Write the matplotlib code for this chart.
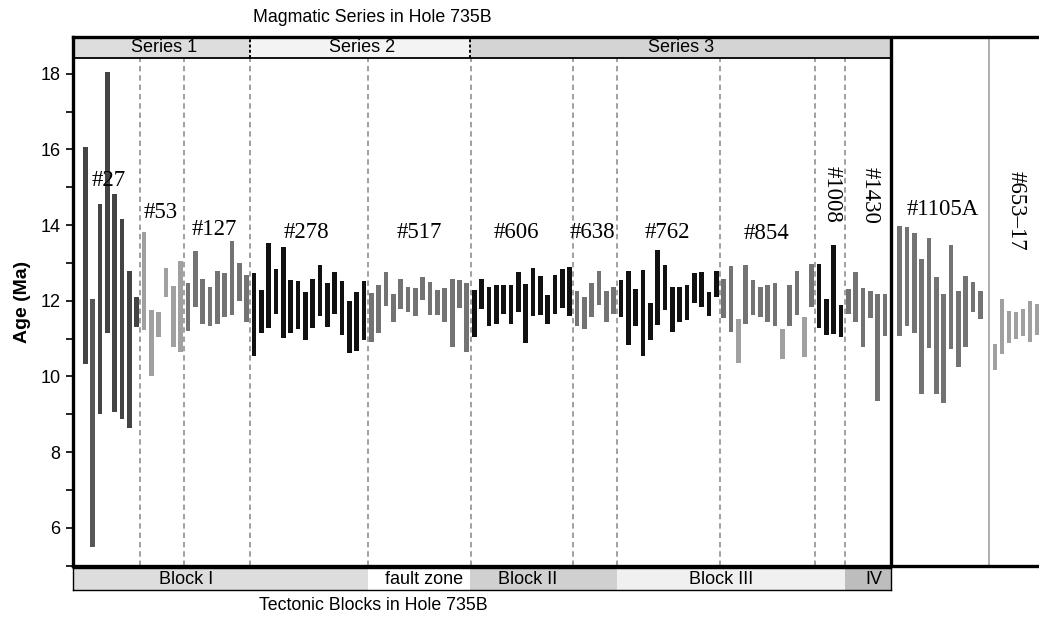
import numpy as np
import matplotlib
matplotlib.use("Agg")
import matplotlib.pyplot as plt
from matplotlib.patches import Rectangle
from matplotlib.ticker import MultipleLocator
from matplotlib import font_manager

# ---------------- data (ages in Ma: top / bottom of each age range) ----------------
labels = ["#27", "#53", "#127", "#278", "#517", "#606", "#638", "#762", "#854",
          "#1008", "#1430", "#1105A", "#653\u201317"]

g27_top = [16.05, 12.04, 14.55, 18.05, 14.82, 14.15, 12.79, 12.11]
g27_bot = [10.33, 5.50, 9.00, 11.15, 9.07, 8.87, 8.65, 11.31]
g27_col = ["d", "d2", "d", "d", "d", "d", "d", "d"]

g53_top = [13.82, 11.76, 11.71, 12.86, 12.39, 13.05]
g53_bot = [11.23, 10.00, 11.05, 12.11, 10.77, 10.64]

g127_top = [12.48, 13.31, 12.57, 12.35, 12.79, 12.72, 13.58, 13.00, 12.68]
g127_bot = [11.20, 11.83, 11.39, 11.33, 11.39, 11.56, 11.62, 11.98, 11.45]

g278_top = [12.74, 12.28, 13.53, 12.83, 13.43, 12.54, 12.51, 12.24, 12.58, 12.95,
            12.46, 12.76, 12.53, 12.00, 12.22, 12.52]
g278_bot = [10.53, 11.16, 11.29, 11.65, 11.01, 11.14, 11.25, 10.95, 11.27, 11.61,
            11.30, 11.64, 11.10, 10.63, 10.66, 10.95]

g517_top = [12.20, 12.42, 12.77, 12.18, 12.57, 12.35, 12.33, 12.64, 12.50, 12.28,
            12.33, 12.58, 12.55, 12.48]
g517_bot = [10.92, 11.14, 11.86, 11.45, 11.79, 11.70, 11.60, 12.01, 11.62, 11.63,
            11.45, 10.79, 11.82, 10.64]

g606_top = [12.28, 12.57, 12.37, 12.42, 12.41, 12.42, 12.76, 12.44, 12.86, 12.66,
            12.16, 12.67, 12.84, 12.90]
g606_bot = [11.03, 11.78, 11.33, 11.38, 11.65, 11.39, 11.71, 10.89, 11.60, 11.62,
            11.39, 11.65, 11.82, 11.60]

g638_top = [12.27, 12.11, 12.46, 12.79, 12.26, 12.37]
g638_bot = [11.32, 11.25, 11.58, 11.89, 11.44, 11.64]

g762_top = [12.55, 12.79, 12.30, 12.81, 11.93, 13.34, 12.95, 12.37, 12.35, 12.42,
            12.74, 12.77, 12.22, 12.79]
g762_bot = [11.58, 10.83, 11.32, 10.53, 10.96, 11.36, 11.76, 11.18, 11.45, 11.49,
            11.95, 11.83, 11.61, 12.11]

g854_top = [12.57, 12.93, 11.52, 12.95, 12.54, 12.35, 12.41, 12.46, 11.25, 12.42,
            12.79, 11.58, 12.97]
g854_bot = [11.55, 11.18, 10.35, 11.38, 11.63, 11.58, 11.45, 11.32, 10.45, 11.32,
            11.62, 10.51, 11.84]
g854_col = ["m", "m", "l", "m", "m", "m", "m", "m", "l", "m", "m", "l", "m"]

g1008_top = [12.97, 12.04, 13.47, 11.89]
g1008_bot = [11.27, 11.10, 11.12, 11.03]

g1430_top = [12.30, 12.75, 12.33, 12.26, 12.17, 12.18]
g1430_bot = [11.64, 11.45, 10.79, 11.54, 9.34, 11.07]

g1105_top = [13.97, 13.95, 13.78, 13.09, 13.67, 12.64, 12.18, 13.47, 12.26, 12.65,
             12.49, 12.26]
g1105_bot = [11.07, 11.33, 11.14, 9.53, 10.76, 9.53, 9.31, 10.72, 10.24, 10.77,
             11.69, 11.51]

g653_top = [10.86, 12.04, 11.74, 11.71, 11.77, 11.98, 11.91]
g653_bot = [10.17, 10.59, 10.88, 10.98, 11.07, 10.92, 11.10]

series_names = ["Series 1", "Series 2", "Series 3"]
block_names = ["Block I", "fault zone", "Block II", "Block III", "IV"]
yticks_major = [6, 8, 10, 12, 14, 16, 18]

# ---------------- styling ----------------
shade = {"k": "#111111", "d": "#444444", "d2": "#575757", "m": "#737373", "l": "#a0a0a0"}

groups = [
    (g27_top, g27_bot, g27_col),
    (g53_top, g53_bot, ["l"] * 6),
    (g127_top, g127_bot, ["m"] * 9),
    (g278_top, g278_bot, ["k"] * 16),
    (g517_top, g517_bot, ["m"] * 14),
    (g606_top, g606_bot, ["k"] * 14),
    (g638_top, g638_bot, ["m"] * 6),
    (g762_top, g762_bot, ["k"] * 14),
    (g854_top, g854_bot, g854_col),
    (g1008_top, g1008_bot, ["k"] * 4),
    (g1430_top, g1430_bot, ["m"] * 6),
]

avail = {f.name for f in font_manager.fontManager.ttflist}
narrow = "Liberation Sans Narrow" if "Liberation Sans Narrow" in avail else "Liberation Sans"
sans = "Liberation Sans"
serif = "Liberation Serif"

W, H = 1039, 619
fig = plt.figure(figsize=(W / 100, H / 100), dpi=100)


def px_box(x0, y0, x1, y1):
    return [x0 / W, 1 - y1 / H, (x1 - x0) / W, (y1 - y0) / H]


ax = fig.add_axes(px_box(73, 37, 1039, 566))
XMIN, XMAX = -1.676, 129.98
YMIN, YMAX = 4.99, 18.97
HEAD = 18.41
BOX_R = 109.8
ax.set_xlim(XMIN, XMAX)
ax.set_ylim(YMIN, YMAX)

bw = 0.64
idx = 0
bounds = []
for tops, bots, cols in groups:
    n = len(tops)
    xs = np.arange(idx, idx + n)
    t = np.array(tops); b = np.array(bots)
    ax.bar(xs, t - b, bottom=b, width=bw, color=[shade[c] for c in cols], linewidth=0, zorder=3)
    idx += n
    bounds.append(idx - 0.5)
bounds = bounds[:-1]

# Hole 1105A and sample 653-17
xs1105 = 111 + np.arange(len(g1105_top))
ax.bar(xs1105, np.array(g1105_top) - np.array(g1105_bot), bottom=g1105_bot, width=bw,
       color=shade["m"], linewidth=0, zorder=3)
xs653 = 124 + 0.95 * np.arange(len(g653_top))
ax.bar(xs653, np.array(g653_top) - np.array(g653_bot), bottom=g653_bot, width=bw,
       color=shade["l"], linewidth=0, zorder=3)

# dashed group separators
ax.vlines(bounds, YMIN, HEAD, colors="#a0a0a0", linestyles=(0, (2.8, 2.0)), linewidth=1.4, zorder=2)

# header: magmatic series
series_spans = [(XMIN, 22.5), (22.5, 52.45), (52.45, BOX_R)]
series_fill = ["#dddddd", "#f3f3f3", "#d4d4d4"]
for (a, b), c in zip(series_spans, series_fill):
    ax.add_patch(Rectangle((a, HEAD), b - a, YMAX - HEAD, facecolor=c, edgecolor="none", zorder=1))
series_lx = [10.7, 37.7, 81.2]
for lx, name in zip(series_lx, series_names):
    ax.text(lx, (HEAD + YMAX) / 2, name, ha="center", va="center", fontsize=13, family=narrow)
ax.hlines(HEAD, XMIN, BOX_R, colors="k", linewidth=1.3, zorder=4)
ax.vlines([22.5, 52.45], HEAD, YMAX, colors="k", linestyles=(0, (1.5, 1.2)), linewidth=1.4, zorder=4)

# box lines
ax.vlines([BOX_R], YMIN, YMAX, colors="k", linewidth=2.4, zorder=5)
ax.vlines([123.2], YMIN, YMAX, colors="#a8a8a8", linewidth=1.3, zorder=2)

# group labels
lab_x = [3.24, 10.3, 17.54, 30.2, 45.5, 58.8, 69.06, 79.3, 92.9, 101.8, 106.95, 116.8, 126.9]
lab_y = [15.19, 14.32, 13.89, 13.80, 13.80, 13.80, 13.80, 13.80, 13.79, 14.82, 14.79, 14.40, 14.37]
lab_rot = [0, 0, 0, 0, 0, 0, 0, 0, 0, -90, -90, 0, -90]
for x, y, r, s in zip(lab_x, lab_y, lab_rot, labels):
    ax.text(x, y, s, ha="center", va="center", rotation=r, fontsize=16.5, family=serif, zorder=6)

# axes styling
for sp in ["left", "top", "bottom"]:
    ax.spines[sp].set_linewidth(2.4)
ax.spines["right"].set_visible(False)
ax.set_xticks([])
ax.set_yticks(yticks_major)
ax.yaxis.set_minor_locator(MultipleLocator(1))
ax.tick_params(axis="y", which="both", direction="out", length=5, width=1.2, labelsize=13, pad=4)
for t in ax.get_yticklabels():
    t.set_family(sans)
ax.set_ylabel("Age (Ma)", fontsize=14, fontweight="bold", family=sans, labelpad=7)

# bottom: tectonic blocks
bax = fig.add_axes(px_box(73, 568, 891, 590))
bax.set_xlim(XMIN, BOX_R)
bax.set_ylim(0, 1)
block_spans = [(XMIN, 38.5), (38.5, 52.45), (52.45, 72.5), (72.5, 103.5), (103.5, BOX_R)]
block_fill = ["#dddddd", "#ffffff", "#d0d0d0", "#f0f0f0", "#bdbdbd"]
block_lx = [13.7, 46.2, 60.3, 86.6, 107.4]
for (a, b), c, name, lx in zip(block_spans, block_fill, block_names, block_lx):
    bax.add_patch(Rectangle((a, 0), b - a, 1, facecolor=c, edgecolor="none"))
    bax.text(lx, 0.5, name, ha="center", va="center", fontsize=13, family=narrow)
bax.set_xticks([]); bax.set_yticks([])
for sp in bax.spines.values():
    sp.set_linewidth(1.0)

fig.text(372 / W, 1 - 17 / H, "Magmatic Series in Hole 735B", ha="center", va="center",
         fontsize=12.8, family=narrow)
fig.text(373 / W, 1 - 606 / H, "Tectonic Blocks in Hole 735B", ha="center", va="center",
         fontsize=12.8, family=narrow)

fig.savefig("out.png", dpi=100)
